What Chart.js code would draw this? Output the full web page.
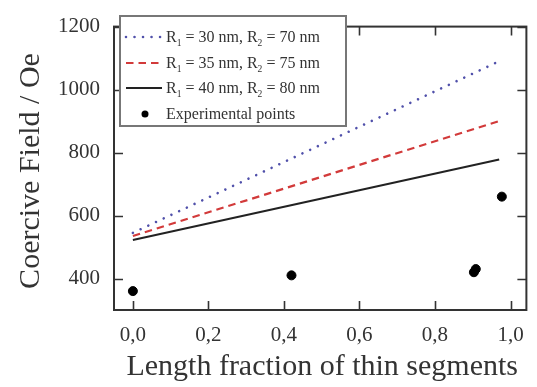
<!DOCTYPE html>
<html>
<head>
<meta charset="utf-8">
<script src="https://cdn.jsdelivr.net/npm/chart.js@4/dist/chart.umd.min.js"></script>
<style>
html,body{margin:0;padding:0;background:#fff;}
#wrap{width:537px;height:387px;}
</style>
</head>
<body>
<div id="wrap"><canvas id="c" width="537" height="387"></canvas></div>
<script>
// ---- data ----
const lineX = [0, 0.97];
const r30 = [545, 1090];
const r35 = [535, 900];
const r40 = [522, 778];
const expX = [0, 0.42, 0.903, 0.908, 0.977];
const expY = [360, 410, 420, 430, 660];
const xTicks = [0, 0.2, 0.4, 0.6, 0.8, 1.0];
const yTicks = [400, 600, 800, 1000, 1200];
const seriesLabels = ['R\u2081 = 30 nm, R\u2082 = 70 nm', 'R\u2081 = 35 nm, R\u2082 = 75 nm', 'R\u2081 = 40 nm, R\u2082 = 80 nm', 'Experimental points'];
const xTitle = 'Length fraction of thin segments';
const yTitle = 'Coercive Field / Oe';

const SERIF = '"Liberation Serif", "Times New Roman", serif';
const toPts = (xs, ys) => xs.map((x, i) => ({x: x, y: ys[i]}));

const framePlugin = {
  id: 'frame',
  afterDraw(chart) {
    const {ctx, chartArea: {left, right, top, bottom}, scales: {x, y}} = chart;
    ctx.save();
    ctx.strokeStyle = '#333';
    ctx.lineWidth = 2;
    ctx.strokeRect(left, top, right - left, bottom - top);
    ctx.lineWidth = 1.6;
    ctx.beginPath();
    const tl = 9;
    xTicks.forEach(v => {
      const px = Math.round(x.getPixelForValue(v)) + 0.5;
      ctx.moveTo(px, bottom); ctx.lineTo(px, bottom - tl);
      ctx.moveTo(px, top); ctx.lineTo(px, top + tl);
    });
    yTicks.forEach(v => {
      const py = Math.round(y.getPixelForValue(v)) + 0.5;
      ctx.moveTo(left, py); ctx.lineTo(left + tl, py);
      ctx.moveTo(right, py); ctx.lineTo(right - tl, py);
    });
    ctx.stroke();

    // legend
    const bx = 120, by = 16, bw = 226, bh = 110;
    ctx.fillStyle = '#fff';
    ctx.fillRect(bx, by, bw, bh);
    ctx.strokeStyle = '#777';
    ctx.lineWidth = 2;
    ctx.strokeRect(bx, by, bw, bh);
    const rows = [37, 63, 88, 114];
    chart.data.datasets.forEach((ds, i) => {
      const ry = rows[i];
      ctx.save();
      if (ds.showLine) {
        ctx.strokeStyle = ds.borderColor;
        ctx.lineWidth = ds.borderWidth;
        ctx.setLineDash(ds.borderDash || []);
        ctx.lineCap = ds.borderCapStyle || 'butt';
        ctx.beginPath();
        ctx.moveTo(126, ry); ctx.lineTo(162, ry);
        ctx.stroke();
      } else {
        ctx.fillStyle = ds.backgroundColor;
        ctx.beginPath();
        ctx.arc(145, ry, 3.5, 0, Math.PI * 2);
        ctx.fill();
      }
      ctx.restore();
      drawSubText(ctx, ds.label, 166, ry + 5, 16);
    });

    // axis titles
    ctx.fillStyle = '#333';
    ctx.font = '30px ' + SERIF;
    ctx.textAlign = 'center';
    ctx.textBaseline = 'alphabetic';
    ctx.fillText(xTitle, (left + right) / 2 + 2, 375);
    ctx.save();
    ctx.translate(39, 171);
    ctx.rotate(-Math.PI / 2);
    ctx.fillText(yTitle, 0, 0);
    ctx.restore();
    ctx.restore();
  }
};

function drawSubText(ctx, text, x, y, size) {
  ctx.save();
  ctx.fillStyle = '#333';
  ctx.textAlign = 'left';
  ctx.textBaseline = 'alphabetic';
  const subs = {'\u2081': '1', '\u2082': '2'};
  let cx = x;
  for (const ch of text) {
    if (subs[ch]) {
      ctx.font = (size * 0.6) + 'px ' + SERIF;
      ctx.fillText(subs[ch], cx, y + 4);
      cx += ctx.measureText(subs[ch]).width;
    } else {
      ctx.font = size + 'px ' + SERIF;
      ctx.fillText(ch, cx, y);
      cx += ctx.measureText(ch).width;
    }
  }
  ctx.restore();
}

new Chart(document.getElementById('c'), {
  type: 'scatter',
  data: {
    datasets: [
      {label: seriesLabels[0], data: toPts(lineX, r30), showLine: true, borderColor: '#5050aa', borderWidth: 2.6, borderDash: [0.01, 8.5], borderCapStyle: 'round', pointRadius: 0, fill: false},
      {label: seriesLabels[1], data: toPts(lineX, r35), showLine: true, borderColor: '#d23a3a', borderWidth: 2.2, borderDash: [7.5, 5], pointRadius: 0, fill: false},
      {label: seriesLabels[2], data: toPts(lineX, r40), showLine: true, borderColor: '#222', borderWidth: 2, pointRadius: 0, fill: false},
      {label: seriesLabels[3], data: toPts(expX, expY), showLine: false, backgroundColor: '#000', borderColor: '#000', pointRadius: 4.5, pointHoverRadius: 4.5}
    ]
  },
  options: {
    responsive: false,
    animation: false,
    devicePixelRatio: 1,
    layout: {padding: {left: 0, top: 13, right: 9, bottom: 0}},
    plugins: {legend: {display: false}, tooltip: {enabled: false}},
    scales: {
      x: {
        type: 'linear', min: -0.05, max: 1.042,
        grid: {display: false, drawTicks: false}, border: {display: false},
        afterBuildTicks: s => { s.ticks = xTicks.map(v => ({value: v})); },
        afterFit: s => { s.height = 77; },
        ticks: {padding: 13, color: '#333', font: {family: SERIF, size: 21}, maxRotation: 0,
          callback: v => v.toFixed(1).replace('.', ',')}
      },
      y: {
        type: 'linear', min: 300, max: 1200,
        grid: {display: false, drawTicks: false}, border: {display: false},
        afterBuildTicks: s => { s.ticks = yTicks.map(v => ({value: v})); },
        afterFit: s => { s.width = 114; },
        ticks: {padding: 14, color: '#333', font: {family: SERIF, size: 21},
          callback: v => String(v)}
      }
    }
  },
  plugins: [framePlugin]
});
</script>
</body>
</html>
